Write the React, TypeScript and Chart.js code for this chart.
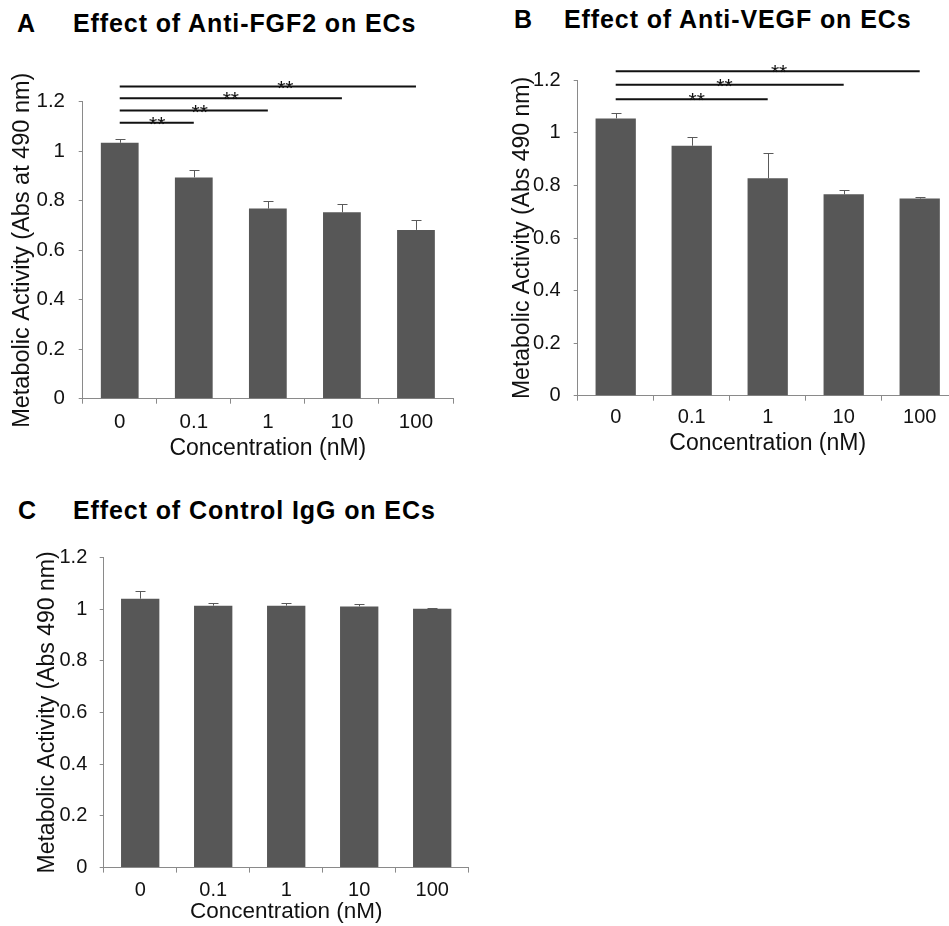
import React, { useEffect, useRef } from "react";
import { Chart, registerables } from "chart.js";

Chart.register(...registerables);

const FONT = "'Liberation Sans', Arial, Helvetica, sans-serif";
const BAR_COLOR = "#575757";
const AXIS_COLOR = "#8a8a8a";
const ERR_COLOR = "#5a5a5a";

// ---- data ----
const categories = ["0", "0.1", "1", "10", "100"];
const yTickValues = [0, 0.2, 0.4, 0.6, 0.8, 1, 1.2];
const yTickLabels = ["0", "0.2", "0.4", "0.6", "0.8", "1", "1.2"];

const fgf2Means = [1.034, 0.894, 0.768, 0.753, 0.682];
const fgf2Errors = [0.014, 0.029, 0.031, 0.034, 0.039];
const fgf2SigTo = [1, 2, 3, 4];
const fgf2SigLevel = [1.115, 1.164, 1.214, 1.261];
const fgf2StarAt = [0.505, 1.08, 1.5, 2.236];

const vegfMeans = [1.055, 0.951, 0.827, 0.766, 0.75];
const vegfErrors = [0.02, 0.035, 0.098, 0.017, 0.007];
const vegfSigTo = [2, 3, 4];
const vegfSigLevel = [1.128, 1.183, 1.234];
const vegfStarAt = [1.066, 1.43, 2.15];

const iggMeans = [1.04, 1.013, 1.013, 1.01, 1.001];
const iggErrors = [0.03, 0.009, 0.009, 0.009, 0.003];
const iggSigTo: number[] = [];
const iggSigLevel: number[] = [];
const iggStarAt: number[] = [];

type PanelProps = {
  left: number;
  top: number;
  width: number;
  height: number;
  means: number[];
  errors: number[];
  sigTo: number[];
  sigLevel: number[];
  starAt: number[];
  yTitle: string;
  yTitleSize: number;
  xTitleSize: number;
  tickSize: number;
  yW: number;
  xH: number;
  padding: { top: number; right: number; bottom: number; left: number };
  yTitlePad: number;
  yTickPad: number;
  xTickPad: number;
  barPct: number;
};

function BarPanel(p: PanelProps) {
  const ref = useRef<HTMLCanvasElement>(null);
  useEffect(() => {
    const canvas = ref.current;
    if (!canvas) return;

    const errorBars = {
      id: "errorBars",
      afterDatasetsDraw(chart: any) {
        const ctx = chart.ctx;
        const yScale = chart.scales.y;
        const meta = chart.getDatasetMeta(0);
        ctx.save();
        ctx.strokeStyle = ERR_COLOR;
        ctx.lineWidth = 1;
        meta.data.forEach((bar: any, i: number) => {
          const top = yScale.getPixelForValue(p.means[i] + p.errors[i]);
          const x = Math.round(bar.x) + 0.5;
          const yt = Math.round(top) + 0.5;
          ctx.beginPath();
          ctx.moveTo(x, bar.y);
          ctx.lineTo(x, yt);
          ctx.moveTo(x - 5, yt);
          ctx.lineTo(x + 5, yt);
          ctx.stroke();
        });
        ctx.restore();
      },
    };

    const significance = {
      id: "significance",
      afterDraw(chart: any) {
        const ctx = chart.ctx;
        const xs = chart.scales.x;
        const ys = chart.scales.y;
        ctx.save();
        ctx.strokeStyle = "#111";
        ctx.lineWidth = 2;
        ctx.fillStyle = "#111";
        ctx.font = `21px ${FONT}`;
        ctx.textAlign = "center";
        ctx.textBaseline = "alphabetic";
        p.sigTo.forEach((to, i) => {
          const x1 = xs.getPixelForValue(0);
          const x2 = xs.getPixelForValue(to);
          const y = ys.getPixelForValue(p.sigLevel[i]);
          ctx.beginPath();
          ctx.moveTo(x1, y);
          ctx.lineTo(x2, y);
          ctx.stroke();
          const sx = xs.getPixelForValue(p.starAt[i]);
          ctx.fillText("**", sx, y + 8);
        });
        ctx.restore();
      },
    };

    const chart = new Chart(canvas, {
      type: "bar",
      data: {
        labels: categories,
        datasets: [
          {
            data: p.means,
            backgroundColor: BAR_COLOR,
            borderWidth: 0,
            barPercentage: p.barPct,
            categoryPercentage: 1,
          },
        ],
      },
      options: {
        responsive: false,
        animation: false,
        devicePixelRatio: 1,
        events: [],
        layout: { padding: p.padding },
        plugins: {
          legend: { display: false },
          tooltip: { enabled: false },
          title: { display: false },
        },
        scales: {
          x: {
            type: "category",
            offset: true,
            grid: {
              offset: true,
              drawOnChartArea: false,
              drawTicks: true,
              tickLength: 5,
              tickColor: AXIS_COLOR,
              tickWidth: 1,
            },
            border: { color: AXIS_COLOR, width: 1 },
            ticks: {
              color: "#111",
              font: { family: FONT, size: p.tickSize, lineHeight: 1.2 },
              padding: p.xTickPad,
              maxRotation: 0,
              autoSkip: false,
            },
            title: {
              display: true,
              text: "Concentration (nM)",
              color: "#111",
              font: { family: FONT, size: p.xTitleSize, lineHeight: 1.2 },
              padding: { top: 0, bottom: 0 },
            },
            afterFit: (s: any) => {
              s.height = p.xH;
            },
          },
          y: {
            type: "linear",
            min: 0,
            max: 1.2,
            afterBuildTicks: (s: any) => {
              s.ticks = yTickValues.map((v) => ({ value: v }));
            },
            grid: {
              drawOnChartArea: false,
              drawTicks: true,
              tickLength: 4,
              tickColor: AXIS_COLOR,
              tickWidth: 1,
            },
            border: { color: AXIS_COLOR, width: 1 },
            ticks: {
              color: "#111",
              font: { family: FONT, size: p.tickSize, lineHeight: 1.2 },
              padding: p.yTickPad,
              callback: (_v: any, i: number) => yTickLabels[i],
            },
            title: {
              display: true,
              text: p.yTitle,
              color: "#111",
              font: { family: FONT, size: p.yTitleSize, lineHeight: 1.2 },
              padding: { top: p.yTitlePad, bottom: 0 },
            },
            afterFit: (s: any) => {
              s.width = p.yW;
            },
          },
        },
      } as any,
      plugins: [errorBars, significance],
    });
    return () => chart.destroy();
  }, []);
  return (
    <canvas
      ref={ref}
      width={p.width}
      height={p.height}
      style={{ position: "absolute", left: p.left, top: p.top, width: p.width, height: p.height }}
    />
  );
}

function Heading({ letter, text, letterLeft, textLeft, top }: { letter: string; text: string; letterLeft: number; textLeft: number; top: number }) {
  const style: React.CSSProperties = {
    position: "absolute",
    top,
    fontFamily: FONT,
    fontWeight: "bold",
    fontSize: 25,
    lineHeight: "25px",
    letterSpacing: 0.9,
    color: "#000",
    whiteSpace: "nowrap",
  };
  return (
    <>
      <div style={{ ...style, left: letterLeft, letterSpacing: 0 }}>{letter}</div>
      <div style={{ ...style, left: textLeft }}>{text}</div>
    </>
  );
}

export default function App() {
  return (
    <div
      style={{
        position: "absolute",
        left: 0,
        top: 0,
        width: 949,
        height: 926,
        overflow: "hidden",
        background: "#fff",
      }}
    >
      <Heading letter="A" text="Effect of Anti-FGF2 on ECs" letterLeft={17} textLeft={73} top={10.7} />
      <Heading letter="B" text="Effect of Anti-VEGF on ECs" letterLeft={514} textLeft={564} top={6.8} />
      <Heading letter="C" text="Effect of Control IgG on ECs" letterLeft={18} textLeft={73} top={497.8} />

      <BarPanel
        left={0}
        top={40}
        width={470}
        height={430}
        means={fgf2Means}
        errors={fgf2Errors}
        sigTo={fgf2SigTo}
        sigLevel={fgf2SigLevel}
        starAt={fgf2StarAt}
        yTitle="Metabolic Activity (Abs at 490 nm)"
        yTitleSize={23.5}
        xTitleSize={23}
        tickSize={20.5}
        yW={82.7}
        xH={64.1}
        padding={{ top: 61.7, right: 17, bottom: 7.2, left: 0 }}
        yTitlePad={8.4}
        yTickPad={13.7}
        xTickPad={6}
        barPct={0.51}
      />
      <BarPanel
        left={470}
        top={40}
        width={500}
        height={430}
        means={vegfMeans}
        errors={vegfErrors}
        sigTo={vegfSigTo}
        sigLevel={vegfSigLevel}
        starAt={vegfStarAt}
        yTitle="Metabolic Activity (Abs 490 nm)"
        yTitleSize={23}
        xTitleSize={23}
        tickSize={20}
        yW={107.7}
        xH={62.1}
        padding={{ top: 40.3, right: 12.3, bottom: 12.2, left: 0 }}
        yTitlePad={39.2}
        yTickPad={13}
        xTickPad={5.2}
        barPct={0.53}
      />
      <BarPanel
        left={0}
        top={510}
        width={480}
        height={416}
        means={iggMeans}
        errors={iggErrors}
        sigTo={iggSigTo}
        sigLevel={iggSigLevel}
        starAt={iggStarAt}
        yTitle="Metabolic Activity (Abs 490 nm)"
        yTitleSize={23}
        xTitleSize={22.5}
        tickSize={20}
        yW={103.7}
        xH={57.2}
        padding={{ top: 47.3, right: 11.3, bottom: 1.2, left: 0 }}
        yTitlePad={33.7}
        yTickPad={12.4}
        xTickPad={5.7}
        barPct={0.525}
      />
    </div>
  );
}
